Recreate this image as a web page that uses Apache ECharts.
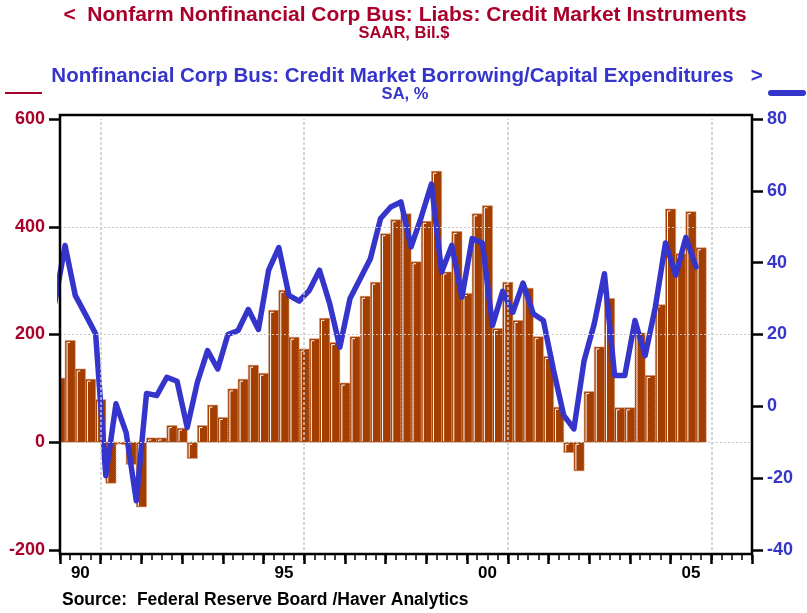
<!DOCTYPE html>
<html><head><meta charset="utf-8">
<script src="https://cdn.jsdelivr.net/npm/echarts@6/dist/echarts.min.js"></script>
<style>html,body{margin:0;padding:0;background:#fff}#c{width:807px;height:613px}</style>
</head><body><div id="c"></div>
<script>
// Quarters 1989Q4 .. 2005Q3
const quarters = [];
for (let y = 1989, q = 4; quarters.length < 64; ) { quarters.push(y + 'Q' + q); q++; if (q > 4) { q = 1; y++; } }

// Nonfarm Nonfinancial Corp Bus: Liabs: Credit Market Instruments, SAAR Bil.$
const liabs = [119, 189, 136, 117, 79, -76, -4, -41, -120, 8, 8, 31, 26, -30, 31, 69,
  46, 99, 117, 143, 128, 245, 282, 195, 173, 192, 230, 185, 110, 196, 271, 297,
  387, 413, 424, 335, 410, 503, 316, 391, 276, 424, 439, 211, 297, 226, 286, 196,
  159, 65, -19, -53, 94, 177, 267, 64, 64, 203, 124, 255, 433, 350, 428, 361];

// Credit Market Borrowing / Capital Expenditures, SA %
const borrowRatio = [29, 44.8, 30.9, 25.6, 20.2, -19.3, 0.7, -7.3, -26.3, 3.6, 3.0, 8.1, 7.0, -5.9, 6.7, 15.5,
  10.4, 20.0, 21.1, 27.0, 21.4, 37.9, 44.2, 30.9, 29.3, 32.3, 37.9, 28.6, 16.5, 30.0, 35.5, 41.1,
  52.3, 55.5, 56.9, 44.4, 52.7, 61.9, 37.4, 44.8, 30.4, 46.7, 45.5, 22.5, 32.0, 26.2, 34.3, 25.8,
  23.9, 10, -2.5, -6.3, 12.7, 23, 36.9, 8.6, 8.6, 23.9, 14.1, 27.6, 45.5, 36.5, 47, 38.8];

const labeledYears = [1990, 1995, 2000, 2005];
const gridYears = [1991, 1996, 2001, 2006];
const leftGrid = [0, 200, 400];

const RED = '#A8002A', BLUE = '#3535CC', BROWN = '#A33D00';
const FONT = '"Liberation Sans", Arial, sans-serif';

function qEnd(s) { const y = +s.slice(0, 4), q = +s.slice(5); return y + q / 4; }
function qMid(s) { const y = +s.slice(0, 4), q = +s.slice(5); return y + (q - 0.5) / 4; }

const barData = quarters.map((q, i) => [qEnd(q), liabs[i]]);
const lineData = quarters.map((q, i) => [qMid(q), borrowRatio[i]]);

const chart = echarts.init(document.getElementById('c'), null, { renderer: 'canvas' });
const xBase = { type: 'value', min: 1990, max: 2007, gridIndex: 0, position: 'bottom', splitLine: { show: false } };
chart.setOption({
  animation: false,
  backgroundColor: '#fff',
  grid: { left: 60, right: 55, top: 119, bottom: 63 },
  xAxis: [
    Object.assign({}, xBase, {
      interval: 0.25, offset: 5,
      axisLine: { show: false, onZero: false },
      axisTick: { show: true, length: 5, lineStyle: { color: '#000', width: 1.5 } },
      axisLabel: {
        margin: 10, color: '#000', fontFamily: FONT, fontWeight: 'bold', fontSize: 17,
        formatter: v => {
          const y = Math.floor(v + 1e-9); const f = v - y;
          if (Math.abs(f - 0.5) < 1e-6 && labeledYears.includes(y)) return String(y).slice(2);
          return '';
        }
      }
    }),
    Object.assign({}, xBase, {
      interval: 1, offset: 5,
      axisLine: { show: false, onZero: false },
      axisTick: { show: true, length: 9, lineStyle: { color: '#000', width: 2.5 } },
      axisLabel: { show: false }
    })
  ],
  yAxis: [
    { type: 'value', min: -200, max: 600, interval: 200, position: 'left',
      axisLine: { show: false, onZero: false },
      axisTick: { show: true, length: 11, lineStyle: { color: '#000', width: 2.5 } },
      axisLabel: { margin: 15, color: RED, fontFamily: FONT, fontWeight: 'bold', fontSize: 18 },
      splitLine: { show: false } },
    { type: 'value', min: -40, max: 80, interval: 20, position: 'right',
      axisLine: { show: false, onZero: false },
      axisTick: { show: true, length: 11, lineStyle: { color: '#000', width: 2.5 } },
      axisLabel: { margin: 15, color: BLUE, fontFamily: FONT, fontWeight: 'bold', fontSize: 18 },
      splitLine: { show: false } }
  ],
  series: [
    { type: 'line', xAxisIndex: 0, yAxisIndex: 0, data: [], z: 1, silent: true,
      markLine: {
        silent: true, symbol: 'none', label: { show: false }, animation: false,
        lineStyle: { color: '#C8C8C8', type: [3, 2], width: 1.5 },
        data: gridYears.map(y => ({ xAxis: y })).concat(leftGrid.map(v => ({ yAxis: v, lineStyle: { width: 1, type: [2, 2] } })))
      } },
    { type: 'custom', xAxisIndex: 0, yAxisIndex: 0, data: barData, z: 2, clip: true,
      renderItem: (params, api) => {
        const x = api.value(0), v = api.value(1);
        const p0 = api.coord([x, 0]), p1 = api.coord([x, v]);
        const w = api.size([0.25, 0])[0];
        const left = p0[0] - w / 2;
        const top = Math.min(p0[1], p1[1]), bot = Math.max(p0[1], p1[1]);
        return { type: 'group', children: [
          { type: 'rect', shape: { x: left, y: top, width: w, height: bot - top },
            style: { fill: BROWN, stroke: '#D9956A', lineWidth: 1, lineDash: [1, 1] } },
          { type: 'polyline', shape: { points: [[left + 2, bot - 1], [left + 2, top + 2], [left + 5, top + 2]] },
            style: { stroke: '#fff', lineWidth: 1, fill: null } }
        ] };
      } },
    { type: 'line', xAxisIndex: 0, yAxisIndex: 1, data: lineData, z: 3, clip: true,
      showSymbol: false, symbol: 'none',
      lineStyle: { color: BLUE, width: 5.5, cap: 'round', join: 'round' } }
  ],
  graphic: [
    { type: 'rect', z: 10, silent: true, shape: { x: 60, y: 115, width: 692, height: 439 },
      style: { fill: null, stroke: '#000', lineWidth: 2.5 } },
    { type: 'text', z: 10, x: 405, y: 15, style: { text: '<  Nonfarm Nonfinancial Corp Bus: Liabs: Credit Market Instruments',
      fill: RED, font: 'bold 21px ' + FONT, textAlign: 'center', textVerticalAlign: 'middle' } },
    { type: 'text', z: 10, x: 404, y: 33, style: { text: 'SAAR, Bil.$',
      fill: RED, font: 'bold 16.5px ' + FONT, textAlign: 'center', textVerticalAlign: 'middle' } },
    { type: 'text', z: 10, x: 407, y: 76, style: { text: 'Nonfinancial Corp Bus: Credit Market Borrowing/Capital Expenditures   >',
      fill: BLUE, font: 'bold 20.5px ' + FONT, textAlign: 'center', textVerticalAlign: 'middle' } },
    { type: 'text', z: 10, x: 405, y: 94, style: { text: 'SA, %',
      fill: BLUE, font: 'bold 16.5px ' + FONT, textAlign: 'center', textVerticalAlign: 'middle' } },
    { type: 'line', z: 10, shape: { x1: 5, y1: 93, x2: 42, y2: 93 }, style: { stroke: RED, lineWidth: 2 } },
    { type: 'line', z: 10, shape: { x1: 771, y1: 93, x2: 803, y2: 93 }, style: { stroke: BLUE, lineWidth: 6, lineCap: 'round' } },
    { type: 'text', z: 10, x: 62, y: 600, style: { text: 'Source:  Federal Reserve Board /Haver Analytics',
      fill: '#000', font: 'bold 17.5px ' + FONT, textAlign: 'left', textVerticalAlign: 'middle' } }
  ]
});
</script></body></html>
